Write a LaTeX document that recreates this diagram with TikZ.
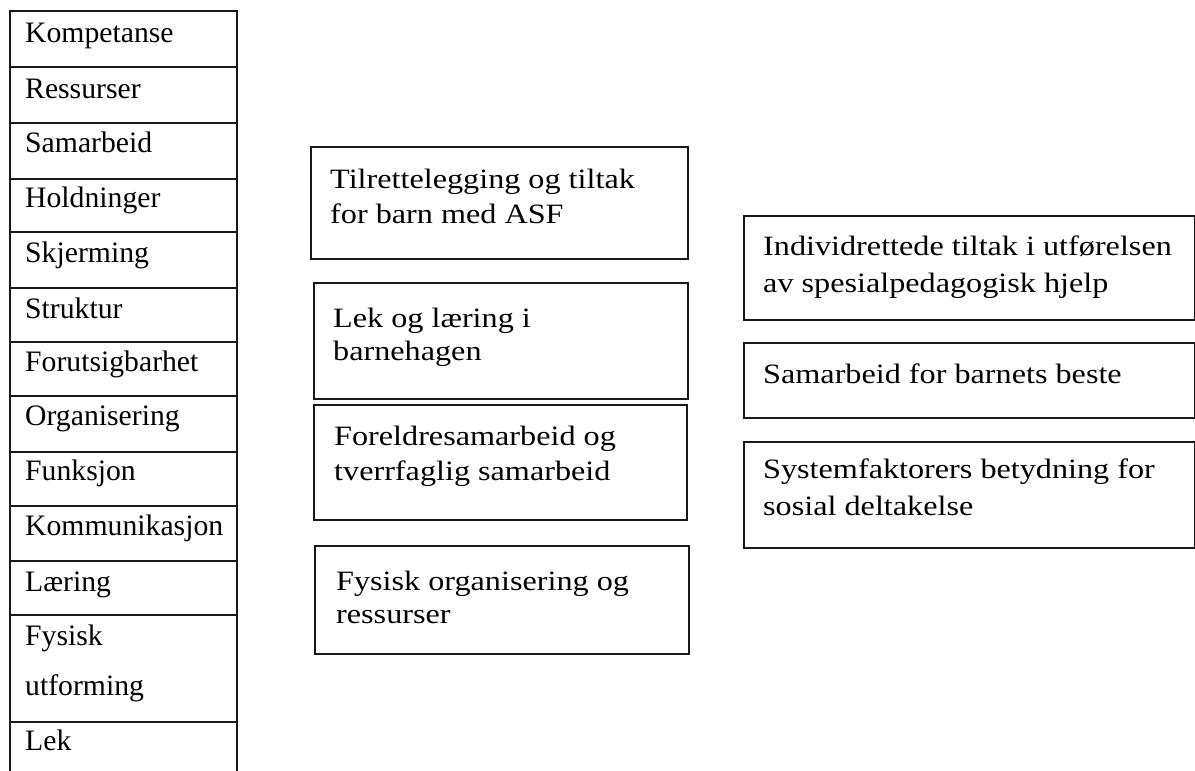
\documentclass[tikz,border=0pt]{standalone}
\usepackage{fontspec}
\setmainfont{Liberation Serif}
\newfontfamily\camfont[FakeStretch=1.15]{Liberation Serif}
\begin{document}
\begin{tikzpicture}[x=1pt,y=-1pt,
  frame/.style={draw=black!90, line width=1.8pt, inner sep=0pt, anchor=north west},
  cell/.style={frame, minimum width=227pt},
  celltxt/.style={anchor=base west, inner sep=0pt, font=\fontsize{29.7}{50}\selectfont},
  boxtxt/.style={anchor=base west, inner sep=0pt, font=\camfont\fontsize{28}{35}\selectfont}]
\useasboundingbox (0,0) rectangle (1195,771);
\clip (0,0) rectangle (1195,771);
% left table
\node[cell, minimum height=56pt] (r1) at (9,10) {};
\node[cell, minimum height=56pt] (r2) at (9,66) {};
\node[cell, minimum height=56pt] (r3) at (9,122) {};
\node[cell, minimum height=53pt] (r4) at (9,178) {};
\node[cell, minimum height=56pt] (r5) at (9,231) {};
\node[cell, minimum height=54pt] (r6) at (9,287) {};
\node[cell, minimum height=54pt] (r7) at (9,341) {};
\node[cell, minimum height=56pt] (r8) at (9,395) {};
\node[cell, minimum height=54pt] (r9) at (9,451) {};
\node[cell, minimum height=55pt] (r10) at (9,505) {};
\node[cell, minimum height=54pt] (r11) at (9,560) {};
\node[cell, minimum height=107pt] (r12) at (9,614) {};
\node[cell, minimum height=80pt] (r13) at (9,721) {};
\node[celltxt] (c1) at (25,42) {Kompetanse};
\node[celltxt] (c2) at (25,98) {Ressurser};
\node[celltxt] (c3) at (25,152) {Samarbeid};
\node[celltxt] (c4) at (25,207) {Holdninger};
\node[celltxt] (c5) at (25,262) {Skjerming};
\node[celltxt] (c6) at (25,318) {Struktur};
\node[celltxt] (c7) at (25,371) {Forutsigbarhet};
\node[celltxt] (c8) at (25,425) {Organisering};
\node[celltxt] (c9) at (25,480) {Funksjon};
\node[celltxt] (c10) at (25,535) {Kommunikasjon};
\node[celltxt] (c11) at (25,591) {Læring};
\node[celltxt] (c12a) at (25,645) {Fysisk};
\node[celltxt] (c12b) at (25,695) {utforming};
\node[celltxt] (c13) at (25,750) {Lek};
% middle boxes
\node[frame, minimum width=377pt, minimum height=112pt] (b1) at (310,146) {};
\node[boxtxt] (t1a) at (330,188) {Tilrettelegging og tiltak};
\node[boxtxt] (t1b) at (330,223) {for barn med ASF};
\node[frame, minimum width=374pt, minimum height=116pt] (b2) at (313,282) {};
\node[boxtxt] (t2a) at (333,327) {Lek og læring i};
\node[boxtxt] (t2b) at (333,360) {barnehagen};
\node[frame, minimum width=373pt, minimum height=115pt] (b3) at (313,404) {};
\node[boxtxt] (t3a) at (334,445) {Foreldresamarbeid og};
\node[boxtxt] (t3b) at (334,480) {tverrfaglig samarbeid};
\node[frame, minimum width=374pt, minimum height=108pt] (b4) at (314,545) {};
\node[boxtxt] (t4a) at (336,590) {Fysisk organisering og};
\node[boxtxt] (t4b) at (336,623) {ressurser};
% right boxes
\node[frame, minimum width=451pt, minimum height=104pt] (b5) at (743,215) {};
\node[boxtxt] (t5a) at (763,255) {Individrettede tiltak i utførelsen};
\node[boxtxt] (t5b) at (763,292) {av spesialpedagogisk hjelp};
\node[frame, minimum width=451pt, minimum height=75pt] (b6) at (743,342) {};
\node[boxtxt] (t6) at (763,383) {Samarbeid for barnets beste};
\node[frame, minimum width=451pt, minimum height=106pt] (b7) at (743,441) {};
\node[boxtxt] (t7a) at (763,478) {Systemfaktorers betydning for};
\node[boxtxt] (t7b) at (763,515) {sosial deltakelse};
\end{tikzpicture}
\end{document}
